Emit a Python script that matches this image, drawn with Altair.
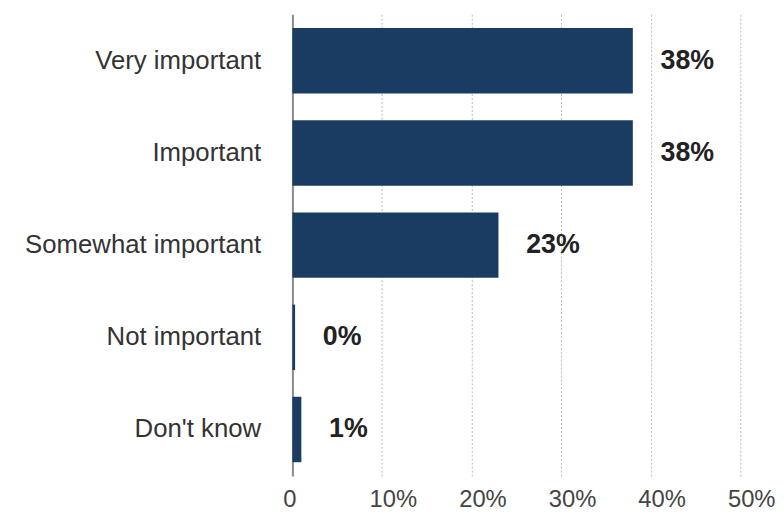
import altair as alt
import pandas as pd

categories = ["Very important", "Important", "Somewhat important", "Not important", "Don't know"]
values = [38, 38, 23, 0.3, 1]
labels = ["38%", "38%", "23%", "0%", "1%"]
ticks = [0, 10, 20, 30, 40, 50]

df = pd.DataFrame({"category": categories, "value": values, "label": labels})

FONT = "Liberation Sans"

y_enc = alt.Y(
    "category:N",
    sort=categories,
    title=None,
    scale=alt.Scale(paddingInner=0.29, paddingOuter=0.15),
    axis=alt.Axis(
        ticks=False, domain=False, labelPadding=32, labelFontSize=26, labelLimit=0,
        labelFont=FONT, labelColor="#333333", minExtent=285, maxExtent=285,
    ),
)
x_enc = alt.X(
    "value:Q",
    title=None,
    scale=alt.Scale(domain=[0, 50], nice=False),
    axis=alt.Axis(
        values=ticks, ticks=False, domain=False, labelFontSize=24, labelFont=FONT,
        labelColor="#444444", labelPadding=12, labelFlush=False, labelOverlap=False,
        labelExpr="datum.value == 0 ? '0' : datum.value + '%'",
        labelOffset={"condition": {"test": "datum.value === 0", "value": -3}, "value": 11},
        grid=True,
        gridColor={"condition": {"test": "datum.value === 0", "value": "#8a8a8a"}, "value": "#b8b8b8"},
        gridWidth={"condition": {"test": "datum.value === 0", "value": 2}, "value": 1},
        gridDash={"condition": {"test": "datum.value === 0", "value": [1, 0]}, "value": [2, 2]},
    ),
)

bars = alt.Chart(df).mark_bar(color="#1b3c62").encode(x=x_enc, y=y_enc)
text = alt.Chart(df).mark_text(
    align="left", baseline="middle", dx=28, fontSize=27, fontWeight="bold",
    font=FONT, color="#222222",
).encode(x="value:Q", y=alt.Y("category:N", sort=categories), text="label:N")

chart = (bars + text).properties(
    width=452, height=466,
    padding={"top": 4, "left": 2, "right": 0, "bottom": 0},
).configure_view(stroke=None)

chart.save("out.html", embed_options={"renderer": "svg", "actions": False})
